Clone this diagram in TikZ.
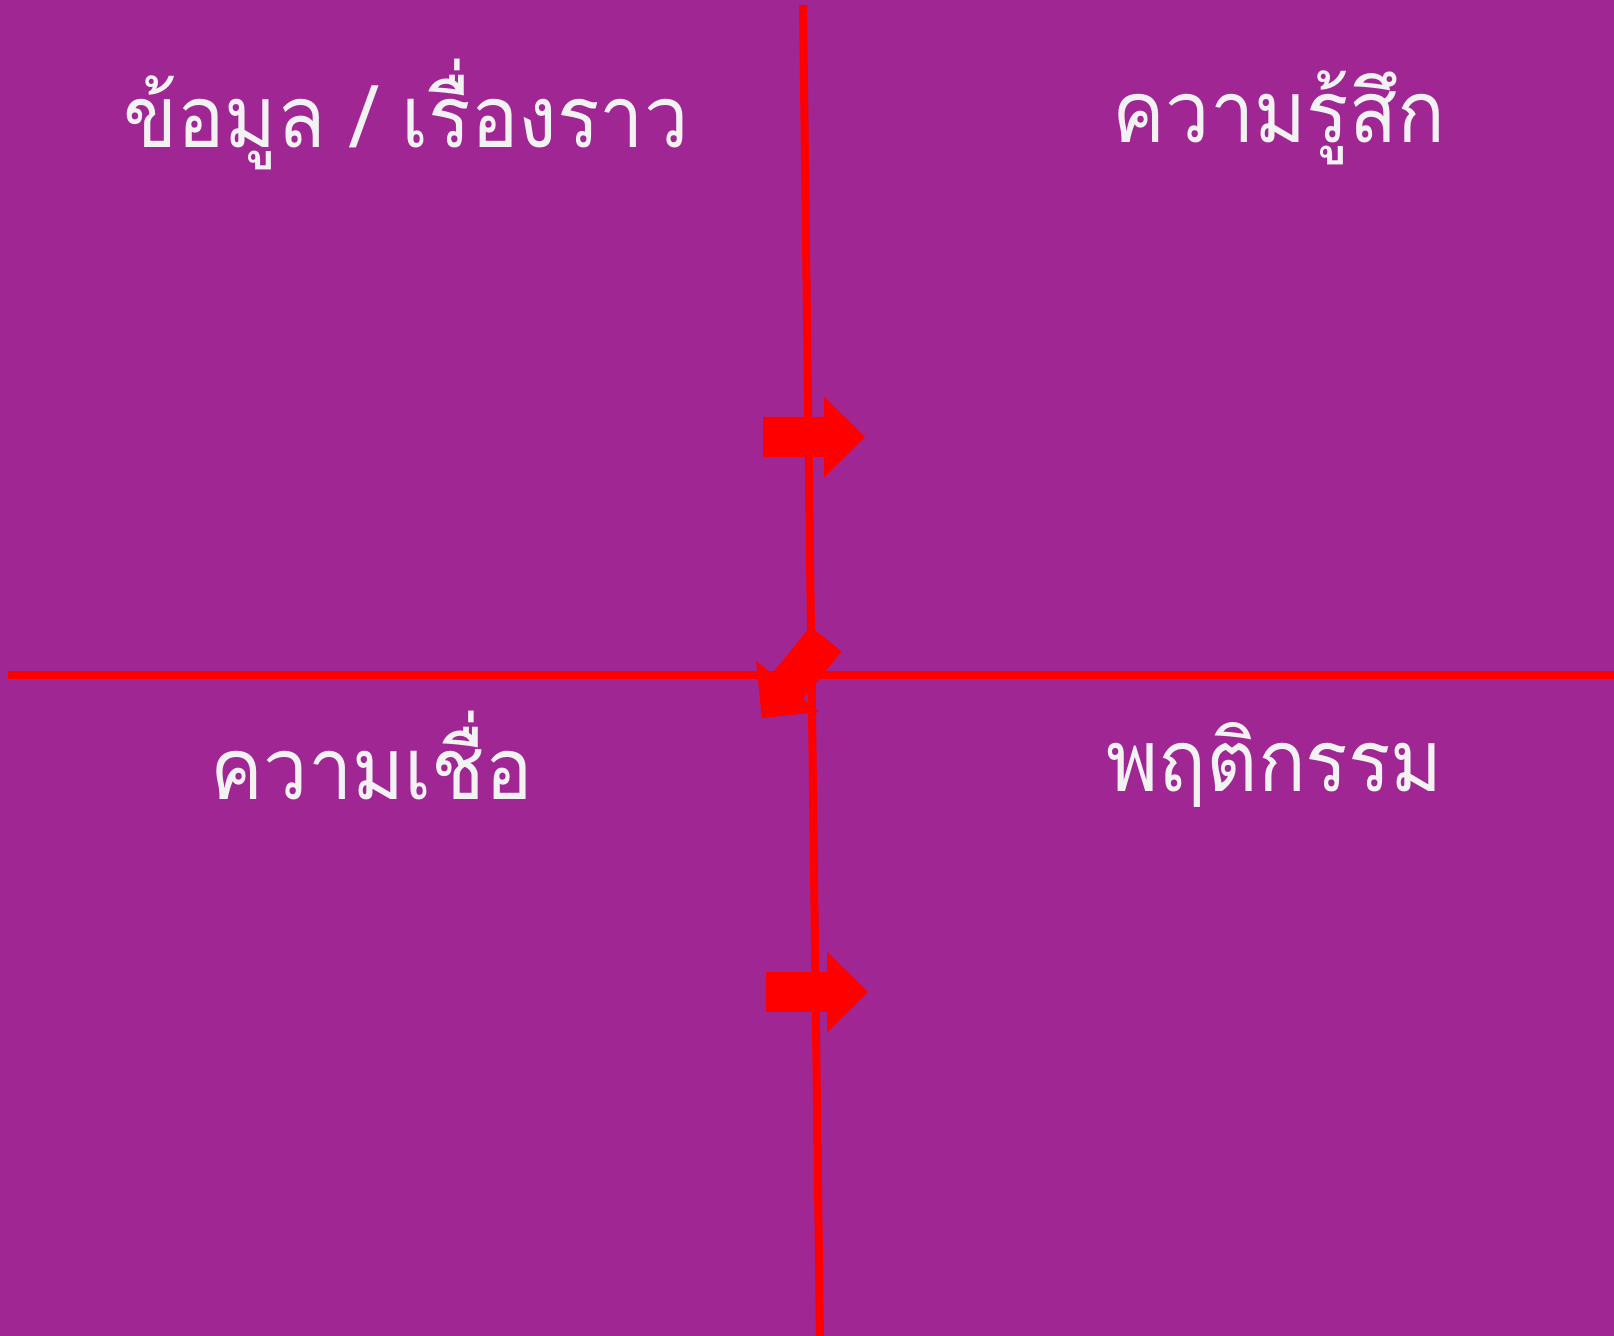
\documentclass[tikz,border=0pt]{standalone}
\usepackage{fontspec}
\newfontfamily\thaifont[Script=Thai,FakeStretch=0.92]{Loma}
\definecolor{bgpurple}{RGB}{160,38,148}
\definecolor{txtwhite}{RGB}{242,242,242}
\definecolor{arrred}{RGB}{255,0,0}
\begin{document}
\begin{tikzpicture}[x=0.5pt,y=-0.5pt,
  thailabel/.style={text=txtwhite,font=\thaifont\fontsize{43}{52}\selectfont,anchor=base,inner sep=0pt},
  divider/.style={draw=arrred,line width=4pt},
  blockarrow/.pic={\fill[arrred] (0,-20) -- (61,-20) -- (61,-40.5) -- (102,0) -- (61,40.5) -- (61,20) -- (0,20) -- cycle;}]
\fill[bgpurple] (0,0) rectangle (1614,1336);
\useasboundingbox (0,0) rectangle (1614,1336);
\coordinate (vtop) at (803,5);
\coordinate (vbot) at (820,1340);
\coordinate (hleft) at (8,675);
\coordinate (hright) at (1618,675);
\draw[divider] (vtop) -- (vbot);
\draw[divider] (hleft) -- (hright);
\pic (a1) at (763,437) {blockarrow};
\pic (a2) [rotate=231] at (826,639) {blockarrow};
\pic (a3) at (766,992) {blockarrow};
\node[thailabel] (info) at (406,148) {ข้อมูล / เรื่องราว};
\node[thailabel] (feel) at (1279,143) {ความรู้สึก};
\node[thailabel] (belief) at (372,800) {ความเชื่อ};
\node[thailabel] (behav) at (1275,792) {พฤติกรรม};
\end{tikzpicture}
\end{document}
